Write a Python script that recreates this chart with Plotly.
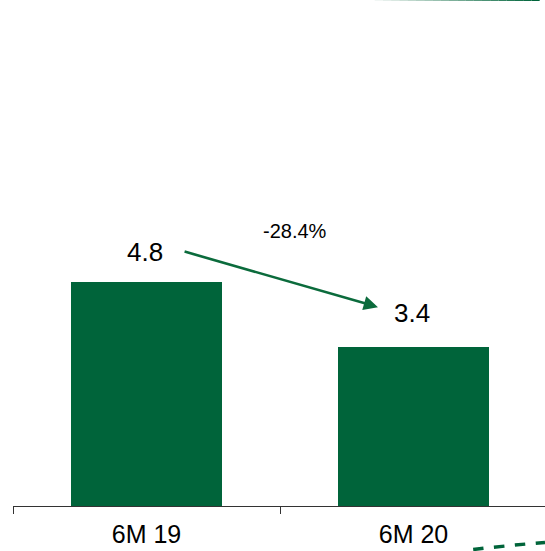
import plotly.graph_objects as go

categories = ["6M 19", "6M 20"]
values = [4.8, 3.4]
value_labels = ["4.8", "3.4"]
change_label = "-28.4%"

GREEN = "#00643A"
label_shifts = [30, 34]

fig = go.Figure()
fig.add_trace(go.Bar(
    x=categories, y=values, marker=dict(color=GREEN, line=dict(width=0)),
    width=0.565, hoverinfo="skip",
))

for c, v, t, s in zip(categories, values, value_labels, label_shifts):
    fig.add_annotation(x=c, y=v, text=t, showarrow=False, yshift=s, xshift=-2,
                       font=dict(size=26, color="#000000", family="Liberation Sans, Arial"))

# change arrow between bars
fig.add_annotation(x=0.867, y=values[1] + 0.86, ax=0.137, ay=values[0] + 0.66,
                   xref="x", yref="y", axref="x", ayref="y", text="",
                   showarrow=True, arrowhead=2, arrowsize=1.1, arrowwidth=2.6,
                   arrowcolor="#0B6B3C")
fig.add_annotation(x=0.555, y=values[0] + 1.09, text=change_label, showarrow=False,
                   font=dict(size=20, color="#000000", family="Liberation Sans, Arial"))

# decorative lines
n = 20
for i in range(n):
    x0 = 0.68 + (0.99 - 0.68) * i / n
    x1 = 0.68 + (0.99 - 0.68) * (i + 1) / n
    fig.add_shape(type="line", xref="paper", yref="paper", x0=x0, x1=x1,
                  y0=1.0, y1=1.0, line=dict(color=GREEN, width=2),
                  opacity=(i + 1) / n, layer="above")
fig.add_shape(type="path", xref="paper", yref="paper",
              path="M 0.865,-0.086 Q 0.93,-0.078 1.0,-0.072",
              line=dict(color=GREEN, width=3.5, dash="dash"))

fig.update_layout(
    width=545, height=551,
    margin=dict(l=13, r=0, t=0, b=45),
    paper_bgcolor="white", plot_bgcolor="white",
    showlegend=False,
    bargap=0,
    xaxis=dict(type="category", range=[-0.5, 1.4925], showline=True,
               linecolor="#333333", linewidth=1.3, ticks="outside",
               tickson="boundaries", ticklen=7, tickcolor="#333333", tickwidth=1.3,
               ticklabelstandoff=6,
               showgrid=False, zeroline=False,
               tickfont=dict(size=25, color="#000000", family="Liberation Sans, Arial")),
    yaxis=dict(range=[0, 10.84], visible=False, showgrid=False, zeroline=False),
)

fig.write_html("out.html")
